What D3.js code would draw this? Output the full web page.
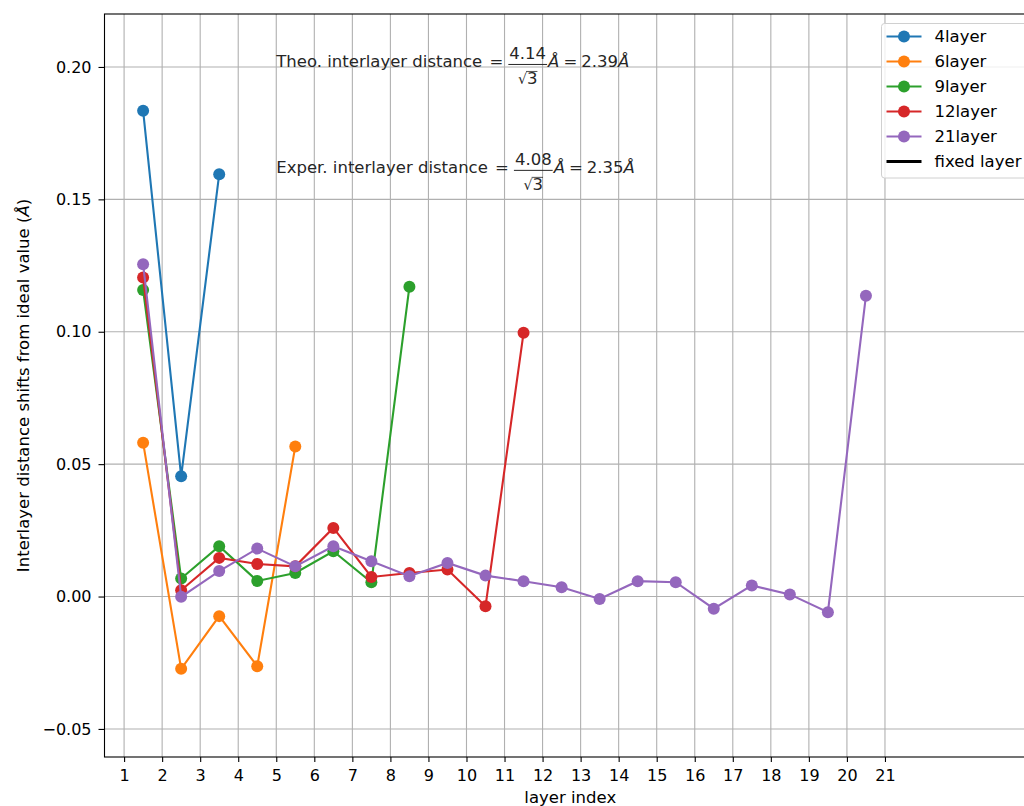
<!DOCTYPE html>
<html>
<head>
<meta charset="utf-8">
<script src="https://cdn.jsdelivr.net/npm/d3@7"></script>
<style>
  html, body { margin: 0; padding: 0; background: #fff; overflow: hidden; }
  svg { display: block; font-family: "DejaVu Sans", sans-serif; }
</style>
</head>
<body>
<div id="chart-container"></div>
<script>
// layer index positions are half-integers (between layers)
const layers4 = [0.1835, 0.0454, 0.1595];
const layers6 = [0.0581, -0.0273, -0.0074, -0.0263, 0.0567];
const layers9 = [0.1158, 0.0068, 0.0190, 0.0059, 0.0089, 0.0171, 0.0054, 0.1170];
const layers12 = [0.1205, 0.0024, 0.0146, 0.0123, 0.0114, 0.0259, 0.0074, 0.0089, 0.0102, -0.0037, 0.0996];
const layers21 = [0.1255, -0.0001, 0.0096, 0.0181, 0.0114, 0.0190, 0.0133, 0.0077, 0.0127, 0.0079,
                  0.0058, 0.0035, -0.0009, 0.0058, 0.0054, -0.0046, 0.0042, 0.0008, -0.0059, 0.1136];

const seriesNames = ["4layer", "6layer", "9layer", "12layer", "21layer"];
const seriesValues = [layers4, layers6, layers9, layers12, layers21];
const seriesColors = ["#1f77b4", "#ff7f0e", "#2ca02c", "#d62728", "#9467bd"];

const xTicks = d3.range(1, 22);
const yTicks = [-0.05, 0, 0.05, 0.10, 0.15, 0.20];

const width = 1024;
const height = 806;
const margin = {top: 14, right: -12, bottom: 49, left: 104.5};

const svg = d3.select("#chart-container").append("svg")
    .attr("width", width)
    .attr("height", height);

const x = d3.scaleLinear()
    .domain([0.485, 24.97])
    .range([margin.left, width - margin.right]);

const y = d3.scaleLinear()
    .domain([-0.0606, 0.22])
    .range([height - margin.bottom, margin.top]);

// grid
svg.append("g")
    .selectAll("line")
    .data(xTicks)
    .join("line")
    .attr("x1", d => x(d)).attr("x2", d => x(d))
    .attr("y1", y.range()[0]).attr("y2", y.range()[1])
    .attr("stroke", "#b0b0b0").attr("stroke-width", 1.1);

svg.append("g")
    .selectAll("line")
    .data(yTicks)
    .join("line")
    .attr("x1", x.range()[0]).attr("x2", x.range()[1])
    .attr("y1", d => y(d)).attr("y2", d => y(d))
    .attr("stroke", "#b0b0b0").attr("stroke-width", 1.1);

// axes
const xAxis = svg.append("g")
    .attr("transform", `translate(0,${y.range()[0]})`)
    .call(d3.axisBottom(x).tickValues(xTicks).tickFormat(d3.format("d")).tickSize(5).tickPadding(8).tickSizeOuter(0));

const yAxis = svg.append("g")
    .attr("transform", `translate(${x.range()[0]},0)`)
    .call(d3.axisLeft(y).tickValues(yTicks).tickFormat(d => d3.format(".2f")(d).replace("-", "\u2212")).tickSize(6).tickPadding(7).tickSizeOuter(0));

[xAxis, yAxis].forEach(g => {
    g.select(".domain").remove();
    g.selectAll(".tick line").attr("stroke", "#000").attr("stroke-width", 1.1);
    g.selectAll(".tick text").attr("fill", "#000").style("font-size", "16px").style("font-family", "DejaVu Sans");
});

// spines
svg.append("rect")
    .attr("x", x.range()[0]).attr("y", y.range()[1])
    .attr("width", x.range()[1] - x.range()[0])
    .attr("height", y.range()[0] - y.range()[1])
    .attr("fill", "none").attr("stroke", "#000").attr("stroke-width", 1.1);

// series
const line = d3.line()
    .x((d, i) => x(i + 1.5))
    .y(d => y(d));

seriesValues.forEach((vals, k) => {
    const g = svg.append("g");
    g.append("path")
        .datum(vals)
        .attr("d", line)
        .attr("fill", "none")
        .attr("stroke", seriesColors[k])
        .attr("stroke-width", 2.1);
    g.selectAll("circle")
        .data(vals)
        .join("circle")
        .attr("cx", (d, i) => x(i + 1.5))
        .attr("cy", d => y(d))
        .attr("r", 6)
        .attr("fill", seriesColors[k]);
});

// annotations (mathtext-like fractions)
function annotate(xv, yv, label, num, res) {
    const g = svg.append("g").style("font-size", "16.5px").attr("fill", "#262626");
    const bx = x(xv), by = y(yv);
    const t1 = g.append("text").attr("x", bx).attr("y", by);
    t1.append("tspan").text(label + " ");
    t1.append("tspan").attr("dx", 2).text("=");
    let cx = bx + t1.node().getComputedTextLength() + 7;
    const numT = g.append("text").attr("y", by - 7.5).text(num);
    const numW = numT.node().getComputedTextLength();
    const denT = g.append("text").attr("y", by + 17);
    denT.append("tspan").style("font-size", "14px").text("\u221a");
    denT.append("tspan").text("3");
    const denW = denT.node().getComputedTextLength();
    const barW = Math.max(numW, denW) + 2;
    numT.attr("x", cx + (barW - numW) / 2);
    const denX = cx + (barW - denW) / 2;
    denT.attr("x", denX);
    g.append("line")
        .attr("x1", cx).attr("x2", cx + barW)
        .attr("y1", by - 2.5).attr("y2", by - 2.5)
        .attr("stroke", "#262626").attr("stroke-width", 1);
    // radical overbar
    g.append("line")
        .attr("x1", denX + 8).attr("x2", denX + denW)
        .attr("y1", by + 4.5).attr("y2", by + 4.5)
        .attr("stroke", "#262626").attr("stroke-width", 0.8);
    cx += barW + 1;
    const t2 = g.append("text").attr("x", cx).attr("y", by);
    t2.append("tspan").style("font-style", "italic").text("\u00c5");
    t2.append("tspan").attr("dx", 4).text("=");
    t2.append("tspan").attr("dx", 4).text(res);
    t2.append("tspan").style("font-style", "italic").text("\u00c5");
}

annotate(5, 0.20, "Theo. interlayer distance", "4.14", "2.39");
annotate(5, 0.16, "Exper. interlayer distance", "4.08", "2.35");

// axis labels
svg.append("text")
    .attr("x", (x.range()[0] + x.range()[1]) / 2)
    .attr("y", 803)
    .attr("text-anchor", "middle")
    .style("font-size", "16.5px")
    .text("layer index");

const yl = svg.append("text")
    .attr("transform", `translate(29,${(y.range()[0] + y.range()[1]) / 2}) rotate(-90)`)
    .attr("text-anchor", "middle")
    .style("font-size", "16.5px");
yl.append("tspan").text("Interlayer distance shifts from ideal value (");
yl.append("tspan").style("font-style", "italic").text("\u00c5");
yl.append("tspan").text(")");

// legend
const legendNames = seriesNames.concat(["fixed layer"]);
const legendColors = seriesColors.concat(["#000"]);
const legend = svg.append("g").attr("transform", "translate(881.5,23.5)");
legend.append("rect")
    .attr("width", 170).attr("height", 154.5)
    .attr("rx", 3).attr("ry", 3)
    .attr("fill", "#fff").attr("fill-opacity", 0.8)
    .attr("stroke", "#d0d0d0").attr("stroke-width", 1);

const item = legend.selectAll("g.item")
    .data(legendNames)
    .join("g")
    .attr("class", "item")
    .attr("transform", (d, i) => `translate(0,${13 + i * 25})`);

item.append("line")
    .attr("x1", 5).attr("x2", 40)
    .attr("stroke", (d, i) => legendColors[i])
    .attr("stroke-width", (d, i) => i < 5 ? 2.1 : 2.8);

item.filter((d, i) => i < 5).append("circle")
    .attr("cx", 22.5).attr("r", 6)
    .attr("fill", (d, i) => legendColors[i]);

item.append("text")
    .attr("x", 53).attr("dy", "0.35em")
    .style("font-size", "16.5px")
    .text(d => d);
</script>
</body>
</html>
